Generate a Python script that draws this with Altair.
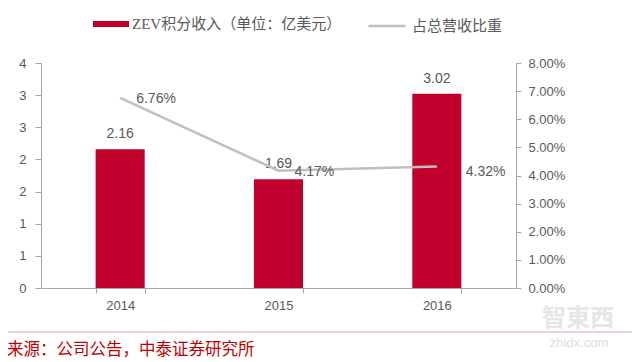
import altair as alt
import pandas as pd

# ---- data ----
years = ["2014", "2015", "2016"]
zev_income = [2.16, 1.69, 3.02]          # 亿美元
revenue_share = [0.0676, 0.0417, 0.0432]  # 占总营收比重
left_ticks = [0, 0.5, 1, 1.5, 2, 2.5, 3, 3.5]
right_ticks = [0, 0.01, 0.02, 0.03, 0.04, 0.05, 0.06, 0.07, 0.08]
bar_name = "ZEV积分收入（单位：亿美元）"
line_name = "占总营收比重"
source_text = "来源：公司公告，中泰证券研究所"
wm_logo = "智東西"
wm_site = "zhidx.com"

df = pd.DataFrame({
    "year": years,
    "income": zev_income,
    "share": revenue_share,
    "bar_series": [bar_name] * len(years),
    "line_series": [line_name] * len(years),
})

W, H = 475, 225
PAD_L, PAD_T = 33, 55
PAD_R = 632 - (PAD_L + 8 + W)
PAD_B = 354 - (PAD_T + H)

RED = "#C0002D"
GRAY_LINE = "#BFBFBF"
TXT = "#595959"
AX = "#A6A6A6"
FONT = "Liberation Sans"
CJK = "Liberation Serif, Noto Sans CJK SC"

x_enc = alt.X(
    "year:N", title=None, sort=years,
    scale=alt.Scale(paddingInner=0.69, paddingOuter=0.345),
    axis=alt.Axis(labelAngle=0, tickBand="extent", domainColor=AX, tickColor=AX,
                  tickSize=5, labelColor=TXT, labelFont=FONT, labelFontSize=13,
                  labelPadding=6, grid=False),
)

y_left = alt.Y(
    "income:Q", title=None,
    scale=alt.Scale(domain=[0, 3.5], nice=False, zero=True),
    axis=alt.Axis(values=left_ticks, labelExpr="format(round(datum.value), 'd')",
                  grid=False, domainColor=AX, tickColor=AX, tickSize=6,
                  labelColor=TXT, labelFont=FONT, labelFontSize=13, labelPadding=9),
)

y_right = alt.Y(
    "share:Q", title=None,
    scale=alt.Scale(domain=[0, 0.08], nice=False, zero=True),
    axis=alt.Axis(orient="right", values=right_ticks, format=".2%", grid=False,
                  domainColor=AX, tickColor=AX, tickSize=5,
                  labelColor=TXT, labelFont=FONT, labelFontSize=13, labelPadding=7),
)

base = alt.Chart(df)

bars = base.mark_bar().encode(
    x=x_enc,
    y=y_left,
    fill=alt.Fill(
        "bar_series:N", scale=alt.Scale(domain=[bar_name], range=[RED]),
        legend=alt.Legend(orient="none", legendX=52, legendY=-57, title=None,
                          symbolType="M-1,-0.17H1V0.17H-1Z", symbolSize=1296,
                          symbolStrokeWidth=0, symbolOpacity=1,
                          labelFont=CJK, labelFontSize=15, labelColor=TXT,
                          labelOffset=3, labelLimit=0, padding=0),
    ),
)
bar_text = base.mark_text(baseline="bottom", dy=-8, font=FONT, fontSize=14,
                          color=TXT).encode(
    x=x_enc, y=y_left, text=alt.Text("income:Q", format=".2f"))

left = alt.layer(bars, bar_text)

line = base.mark_line(strokeWidth=2.5).encode(
    x=x_enc,
    y=y_right,
    stroke=alt.Stroke(
        "line_series:N", scale=alt.Scale(domain=[line_name], range=[GRAY_LINE]),
        legend=alt.Legend(orient="none", legendX=326, legendY=-57, title=None,
                          symbolType="stroke", symbolSize=1369,
                          symbolStrokeWidth=2.5, labelFont=CJK, labelFontSize=15,
                          labelColor=TXT, labelOffset=5, labelLimit=0, padding=0),
    ),
)
line_text_a = base.transform_filter(alt.datum.year != "2016").mark_text(
    align="left", baseline="middle", dx=16, dy=1, font=FONT, fontSize=14, color=TXT
).encode(x=x_enc, y=y_right, text=alt.Text("share:Q", format=".2%"))
line_text_b = base.transform_filter(alt.datum.year == "2016").mark_text(
    align="left", baseline="middle", dx=29, dy=5, font=FONT, fontSize=14, color=TXT
).encode(x=x_enc, y=y_right, text=alt.Text("share:Q", format=".2%"))

right = alt.layer(line, line_text_a, line_text_b)

# footer / watermark decorations
deco_df = pd.DataFrame({"src": [source_text], "logo": [wm_logo], "site": [wm_site]})
deco = alt.Chart(deco_df)
foot_rule = deco.mark_rule(color="#E8A3A8", strokeWidth=1).encode(
    x=alt.value(-PAD_L), x2=alt.value(W + PAD_R), y=alt.value(332 - 8 - PAD_T))
foot_text = deco.mark_text(align="left", baseline="middle", font="Noto Sans CJK SC",
                           fontSize=16.5, color="#C00000").encode(
    x=alt.value(7 - 8 - PAD_L), y=alt.value(350 - 8 - PAD_T), text="src:N")
logo_text = deco.mark_text(align="center", baseline="middle", font="Noto Sans CJK SC",
                           fontSize=24, fontWeight="bold", color="#E6E6E6").encode(
    x=alt.value(578 - 8 - PAD_L), y=alt.value(319 - 8 - PAD_T), text="logo:N")
site_text = deco.mark_text(align="center", baseline="middle", font=FONT,
                           fontSize=13, color="#DDDDDD").encode(
    x=alt.value(579 - 8 - PAD_L), y=alt.value(343 - 8 - PAD_T), text="site:N")

chart = alt.layer(left, right, logo_text, site_text, foot_rule, foot_text).resolve_scale(
    y="independent"
).properties(
    width=W, height=H,
    autosize=alt.AutoSizeParams(type="none"),
    padding={"left": PAD_L, "top": PAD_T, "right": PAD_R, "bottom": PAD_B},
    background="white",
).configure_view(stroke=None)

chart.save("out.html", embed_options={"renderer": "svg", "actions": False})
